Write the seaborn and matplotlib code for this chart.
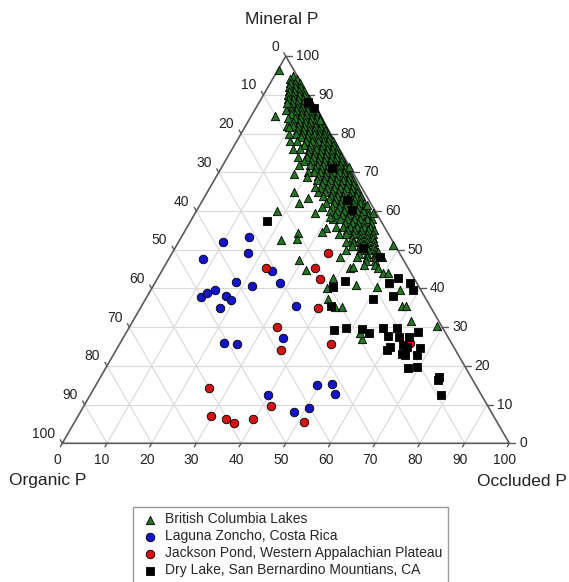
import numpy as np
import pandas as pd
import seaborn as sns
import matplotlib.pyplot as plt

# %% Data: ternary composition in % (mineral P, organic P); occluded = 100 - mineral - organic
# British Columbia Lakes, dense band along the right edge: (mineral, [organic values])
bc_band_rows = [
    (95, [1.0]),
    (94, [0.5, 2.0]),
    (93, [0.3, 1.4, 2.6]),
    (92, [0.8, 2.0, 3.2]),
    (91, [0.4, 1.5, 2.7, 3.8]),
    (90, [0.9, 2.1, 3.3, 4.4]),
    (89, [0.4, 1.6, 2.8, 4.0, 5.0]),
    (88, [0.3, 1.0, 2.2, 3.4, 4.6]),
    (87, [0.5, 1.7, 2.9, 4.1, 5.3]),
    (86, [0.3, 1.1, 2.3, 3.5, 4.7, 5.8, 7.0]),
    (85, [0.6, 1.8, 3.0, 4.2, 5.4, 6.4]),
    (84, [0.4, 1.2, 2.4, 3.6, 4.8, 6.0, 7.6]),
    (83, [0.7, 1.9, 3.1, 4.3, 5.5, 6.8]),
    (82, [0.4, 1.3, 2.5, 3.7, 4.9, 6.2, 7.4, 8.8]),
    (81, [0.8, 2.0, 3.2, 4.4, 5.6, 6.9]),
    (80, [0.5, 1.4, 2.6, 3.8, 5.0, 6.3, 7.8, 9.2]),
    (79, [0.9, 2.1, 3.3, 4.6, 5.8, 7.1]),
    (78, [0.5, 1.5, 2.7, 3.9, 5.2, 6.5, 8.4, 10.0]),
    (77, [1.0, 2.2, 3.5, 4.7, 6.0, 7.4]),
    (76, [0.6, 1.6, 2.8, 4.1, 5.3, 6.7, 8.9, 10.5]),
    (75, [1.1, 2.3, 3.6, 4.9, 6.2, 7.6]),
    (74, [0.6, 1.7, 3.0, 4.2, 5.5, 6.9, 8.3, 10.2]),
    (73, [1.2, 2.4, 3.7, 5.0, 6.4, 7.8, 9.4]),
    (72, [0.7, 1.8, 3.1, 4.4, 5.7, 7.1, 8.6, 11.0]),
    (71, [1.3, 2.5, 3.9, 5.2, 6.6, 8.0]),
    (70, [0.8, 1.9, 3.2, 4.5, 5.9, 7.3, 8.8, 10.0]),
    (69, [1.4, 2.7, 4.0, 5.4, 6.8, 8.2]),
    (68, [1.0, 2.0, 3.3, 4.7, 6.1, 7.5, 9.0]),
    (67, [1.5, 2.8, 4.2, 5.6, 7.0, 8.5]),
    (66, [1.1, 2.1, 3.5, 4.9, 6.3, 7.8, 9.3]),
    (65, [1.6, 3.0, 4.4, 5.8, 7.2, 8.7, 10.4]),
    (64, [1.2, 2.3, 3.7, 5.1, 6.5, 8.0, 9.6]),
    (63, [1.8, 3.2, 4.6, 6.0, 7.4, 8.9]),
    (62, [1.4, 2.5, 3.9, 5.3, 6.8, 8.3, 9.9]),
    (61, [2.0, 3.4, 4.8, 6.2, 7.7, 9.2]),
    (60, [1.6, 2.7, 4.1, 5.5, 7.0, 8.5, 10.2]),
    (59, [2.2, 3.6, 5.0, 6.5, 8.0, 9.5]),
    (58, [1.8, 2.9, 4.3, 5.8, 7.3, 8.8, 10.5]),
    (57, [2.4, 3.9, 5.3, 6.8, 8.3]),
    (56, [3.1, 4.6, 6.1, 7.6, 9.2, 10.8]),
    (55, [2.7, 4.2, 5.7, 7.2, 8.7]),
    (54, [3.4, 4.9, 6.4, 8.0, 9.6, 11.2]),
    (53, [3.9, 5.4, 7.0, 8.6]),
    (52, [4.2, 5.8, 7.4, 9.0, 10.6]),
    (51, [4.7, 6.3, 8.0, 9.7]),
    (50, [5.0, 6.7, 8.4, 11.5]),
    (49, [5.6, 7.3, 9.1]),
    (48, [6.0, 7.8, 10.0]),
    (47, [6.5, 8.6]),
    (46, [7.1, 9.5]),
]
# British Columbia Lakes, scattered points (mineral, organic)
bc_scatter = [
    (96.5, 3.3), (88.0, 5.7), (84.5, 10.1), (81.6, 8.55), (69.5, 13.45),
    (68.9, 10.75), (66.3, 10.35), (62.15, 15.95), (60.0, 21.9), (54.4, 20.1),
    (59.4, 13.8), (55.5, 13.25), (59.4, 0.9), (71.3, 0.3), (83.5, 0.5),
    (65.0, 15.7), (63.3, 13.35), (61.0, 11.5), (52.7, 21.05), (54.7, 14.65),
    (61.6, 1.1), (58.5, 10.85), (51.3, 0.3), (48.2, 13.8), (45.2, 13.0),
    (42.6, 18.1), (45.2, 6.7), (43.9, 6.25), (43.9, 5.15), (52.5, 24.85),
    (47.35, 23.35), (44.8, 23.1), (40.9, 13.95), (40.0, 20.85), (37.2, 21.9),
    (35.3, 21.35), (35.3, 19.85), (40.3, 9.55), (39.6, 4.7), (35.5, 6.35),
    (35.5, 5.35), (31.6, 6.2), (30.3, 1.1), (26.9, 19.55), (49.3, 4.65),
    (48.2, 4.45), (45.6, 12.1), (28.6, 19.1),
]
laguna = [
    (52.1, 37.9), (53.2, 31.6), (49.1, 34.0), (47.7, 44.7), (44.5, 30.9),
    (41.7, 40.3), (40.6, 37.3), (41.4, 30.6), (37.9, 50.1), (38.75, 48.35),
    (39.7, 46.0), (38.1, 44.3), (37.0, 43.8), (35.0, 47.2), (35.4, 30.0),
    (27.1, 37.0), (25.8, 50.9), (25.6, 48.2), (15.1, 35.5), (15.4, 32.0),
    (12.8, 32.6), (12.5, 47.8), (9.2, 40.1), (8.2, 44.0),
]
jackson = [
    (45.2, 31.8), (45.2, 20.9), (49.1, 15.9), (42.4, 21.15), (35.0, 25.4),
    (30.1, 37.0), (24.1, 39.0), (25.65, 27.15), (14.2, 60.15), (9.6, 48.4),
    (7.1, 63.2), (6.2, 60.3), (5.2, 59.1), (6.4, 54.1), (5.5, 43.1),
    (25.8, 9.3),
]
drylake = [
    (57.5, 25.5), (41.9, 15.8), (37.3, 11.9), (42.8, 3.4), (41.3, 6.3),
    (38.1, 7.0), (41.3, 1.6), (39.6, 1.8), (40.3, 19.2), (35.5, 22.15),
    (29.3, 24.5), (29.8, 21.6), (29.45, 18.25), (28.4, 17.2), (29.9, 13.4),
    (29.7, 10.3), (27.7, 13.2), (27.5, 10.9), (27.5, 8.8), (28.7, 6.0),
    (24.8, 14.3), (24.0, 15.4), (25.4, 11.1), (25.0, 10.45), (23.0, 12.6),
    (22.8, 11.9), (22.8, 9.3), (24.5, 7.75), (19.4, 12.9), (19.6, 10.9),
    (17.2, 7.1), (16.35, 7.75), (12.55, 8.95), (50.4, 7.6), (88.2, 0.9),
    (86.5, 0.35), (71.0, 4.2), (62.85, 4.95), (60.3, 5.1), (48.2, 4.8),
]
sites = ["British Columbia Lakes",
         "Laguna Zoncho, Costa Rica",
         "Jackson Pond, Western Appalachian Plateau",
         "Dry Lake, San Bernardino Mountians, CA"]
ticks = list(range(0, 101, 10))

# %% Build table
bc = [(m, g) for m, row in bc_band_rows for g in row] + bc_scatter
rows = []
for site, pts in zip(sites, [bc, laguna, jackson, drylake]):
    for m, g in pts:
        rows.append({"Site": site, "Mineral": m, "Organic": g,
                     "Occluded": 100 - m - g})
df = pd.DataFrame(rows)
h = np.sqrt(3) / 2
df["x"] = df["Occluded"] / 100 + df["Mineral"] / 200
df["y"] = df["Mineral"] / 100 * h

# %% Plot
sns.set_style("white")
plt.rcParams["font.family"] = ["Liberation Sans", "DejaVu Sans"]
fig = plt.figure(figsize=(5.69, 5.82), dpi=100)
ax = fig.add_axes([0, 0, 1, 1])
S = 447.0  # pixels per unit side
px = 1 / S
ax.set_xlim(-62.3 / S, (569 - 62.3) / S)
ax.set_ylim(-(582 - 443.3) / S, 443.3 / S)
ax.axis("off")

# grid
gc = "#d9d9d9"
for k in ticks[1:-1]:
    f = k / 100
    ax.plot([f / 2, 1 - f / 2], [f * h, f * h], color=gc, lw=0.8, zorder=1)
    ax.plot([f, f + (1 - f) / 2], [0, (1 - f) * h], color=gc, lw=0.8, zorder=1)
    ax.plot([(1 - f) / 2, 1 - f], [(1 - f) * h, 0], color=gc, lw=0.8, zorder=1)
ax.plot([0, 1, 0.5, 0], [0, 0, h, 0], color="#5a5a5a", lw=1.2, zorder=2)

# ticks and tick labels
tc = "#222222"
ec = "#5a5a5a"
for k in ticks:
    f = k / 100
    # left axis: organic
    x0, y0 = (1 - f) / 2, (1 - f) * h
    ax.plot([x0, x0 - 2 * px], [y0, y0 + 3.5 * px], color=ec, lw=1, zorder=2)
    ax.text(x0 - 7 * px, y0 + 9.5 * px, str(k), ha="right", va="center",
            fontsize=10, color=tc)
    # right axis: mineral
    x0, y0 = 1 - f / 2, f * h
    ax.plot([x0, x0 + 6 * px], [y0, y0], color=ec, lw=1, zorder=2)
    ax.text(x0 + 10 * px, y0, str(k), ha="left", va="center",
            fontsize=10, color=tc)
    # bottom axis: occluded
    x0, y0 = f, 0
    ax.plot([x0, x0 - 2 * px], [y0, y0 - 3.5 * px], color=ec, lw=1, zorder=2)
    ax.text(x0 - 5 * px, y0 - 17 * px, str(k), ha="center", va="center",
            fontsize=10, color=tc)

ax.text((282 - 62.3) / S, (443.3 - 20) / S, "Mineral P", ha="center",
        va="center", fontsize=12.5, color=tc)
ax.text((48 - 62.3) / S, (443.3 - 485) / S, "Organic P", ha="center",
        va="baseline", fontsize=12.5, color=tc)
ax.text((477 - 62.3) / S, (443.3 - 486) / S, "Occluded P", ha="left",
        va="baseline", fontsize=12.5, color=tc)

# points
styles = {
    sites[0]: ("^", "#237523", 36),
    sites[1]: ("o", "#1414c8", 38),
    sites[2]: ("o", "#d01414", 38),
    sites[3]: ("s", "#000000", 28),
}
for i, site in enumerate(sites):
    mk, col, sz = styles[site]
    sns.scatterplot(data=df[df["Site"] == site], x="x", y="y", marker=mk,
                    color=col, s=sz, edgecolor="black", linewidth=0.6,
                    label=site, ax=ax, zorder=3 + i)

leg = ax.legend(loc="upper left", bbox_to_anchor=(133.3 / 569, 1 - 506.7 / 582),
                bbox_transform=fig.transFigure, frameon=True, fancybox=False,
                edgecolor="#9a9a9a", framealpha=1, borderpad=0.4,
                handlelength=1.6, handletextpad=0.3, labelspacing=0.22,
                borderaxespad=0, fontsize=10)
leg.get_frame().set_linewidth(1.0)

plt.savefig("out.png", dpi=100)
plt.close()
